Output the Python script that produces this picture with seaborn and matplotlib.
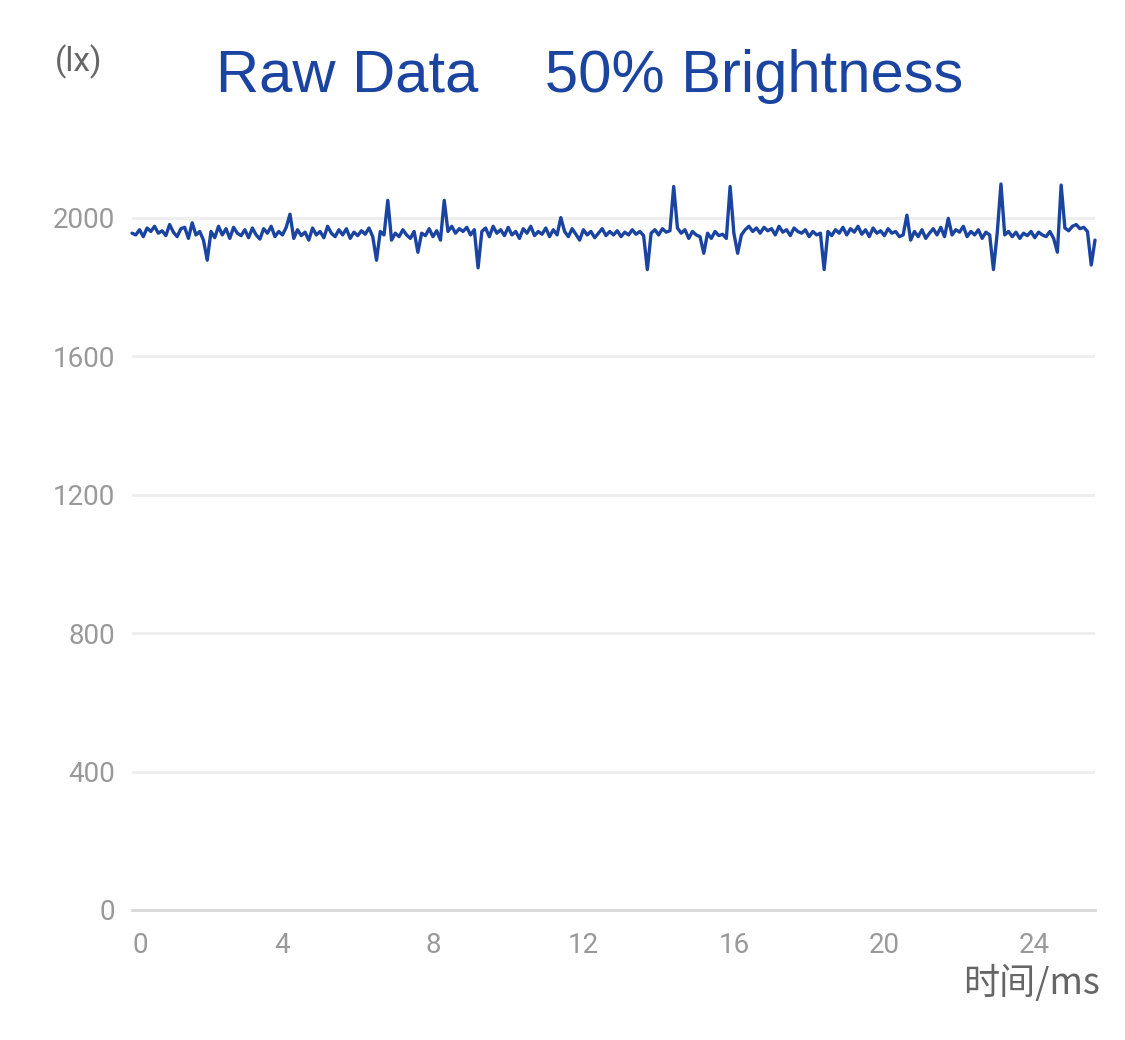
import numpy as np
import pandas as pd
import matplotlib
matplotlib.use("Agg")
import matplotlib.pyplot as plt
import seaborn as sns

# ---- data ----
time_ms = [round(i * 0.1, 1) for i in range(257)]
lux = [
    1955, 1950, 1965, 1945, 1970, 1960, 1975, 1955, 1962, 1948,
    1980, 1958, 1945, 1968, 1972, 1940, 1985, 1950, 1960, 1935,
    1877, 1960, 1942, 1975, 1950, 1968, 1940, 1972, 1955, 1948,
    1965, 1942, 1970, 1950, 1938, 1968, 1955, 1975, 1945, 1960,
    1950, 1972, 2010, 1940, 1965, 1948, 1958, 1935, 1970, 1950,
    1960, 1942, 1975, 1955, 1945, 1965, 1950, 1968, 1940, 1958,
    1948, 1962, 1952, 1970, 1945, 1877, 1960, 1950, 2050, 1935,
    1955, 1945, 1965, 1950, 1940, 1960, 1900, 1955, 1948, 1968,
    1945, 1962, 1935, 2050, 1960, 1975, 1955, 1968, 1960, 1972,
    1950, 1965, 1855, 1960, 1970, 1945, 1975, 1955, 1965, 1948,
    1972, 1950, 1960, 1940, 1968, 1955, 1975, 1948, 1960, 1952,
    1970, 1945, 1965, 1950, 2000, 1960, 1945, 1968, 1952, 1935,
    1965, 1950, 1960, 1942, 1955, 1968, 1948, 1960, 1950, 1962,
    1945, 1958, 1950, 1965, 1952, 1960, 1948, 1850, 1955, 1965,
    1950, 1968, 1958, 1962, 2090, 1970, 1955, 1965, 1940, 1960,
    1950, 1945, 1897, 1955, 1940, 1960, 1948, 1952, 1940, 2090,
    1955, 1897, 1950, 1965, 1975, 1960, 1970, 1955, 1972, 1962,
    1968, 1950, 1975, 1958, 1965, 1948, 1970, 1960, 1955, 1965,
    1945, 1960, 1950, 1955, 1850, 1960, 1948, 1965, 1955, 1972,
    1950, 1968, 1958, 1975, 1952, 1965, 1945, 1970, 1955, 1962,
    1948, 1968, 1955, 1960, 1945, 1950, 2007, 1935, 1960, 1945,
    1965, 1940, 1955, 1968, 1950, 1972, 1945, 1998, 1950, 1965,
    1958, 1975, 1945, 1960, 1950, 1965, 1940, 1958, 1950, 1850,
    1955, 2097, 1950, 1960, 1945, 1958, 1940, 1955, 1948, 1960,
    1942, 1958, 1950, 1945, 1960, 1940, 1900, 2094, 1970, 1962,
    1975, 1980, 1968, 1972, 1960, 1863, 1935,
]
x_ticks = [0, 4, 8, 12, 16, 20, 24]
y_ticks = [0, 400, 800, 1200, 1600, 2000]
title_text = "Raw Data    50% Brightness"
y_unit = "(lx)"
x_label = "时间/ms"

df = pd.DataFrame({"time": time_ms, "lux": lux})

sns.set_theme(style="white")
plt.rcParams["font.family"] = ["Roboto", "Noto Sans CJK SC", "DejaVu Sans"]

fig = plt.figure(figsize=(11.25, 10.4), dpi=100)
W, H = 1125, 1040
left, right, bottom_px, top_px = 132, 1095, 910, 183
ax = fig.add_axes([left / W, (H - bottom_px) / H, (right - left) / W, (bottom_px - top_px) / H])

line_color = "#1a44a0"
sns.lineplot(data=df, x="time", y="lux", ax=ax, color=line_color, linewidth=2.4)
for ln in ax.lines:
    ln.set_clip_on(False)

ax.set_xlim(0, 25.6)
ax.set_ylim(0, 2100)
ax.set_xticks(x_ticks)
ax.set_yticks(y_ticks)
ax.set_xticklabels([str(t) for t in x_ticks])
ax.set_yticklabels([str(t) for t in y_ticks])
ax.grid(axis="y", color="#eeeeee", linewidth=2)
ax.grid(axis="x", visible=False)
for s in ["top", "right", "left"]:
    ax.spines[s].set_visible(False)
ax.spines["bottom"].set_color("#d9d9d9")
ax.spines["bottom"].set_linewidth(2)
ax.tick_params(axis="both", length=0, labelsize=20, labelcolor="#999999")
ax.tick_params(axis="x", pad=16)
ax.tick_params(axis="y", pad=12)
ax.set_xlabel("")
ax.set_ylabel("")
xl = ax.get_xticklabels()
xl[0].set_horizontalalignment("left")

fig.text(590 / W, 1 - 76 / H, title_text, ha="center", va="center",
         fontsize=43, color=line_color, family=["Liberation Sans", "DejaVu Sans"])
fig.text(79 / W, 1 - 62 / H, y_unit, ha="center", va="center", fontsize=24, color="#666666")
fig.text(1100 / W, 1 - 983 / H, x_label, ha="right", va="center", fontsize=26,
         color="#666666", family=["Noto Sans CJK SC", "DejaVu Sans"])

fig.savefig("out.png", dpi=100, facecolor="white")
